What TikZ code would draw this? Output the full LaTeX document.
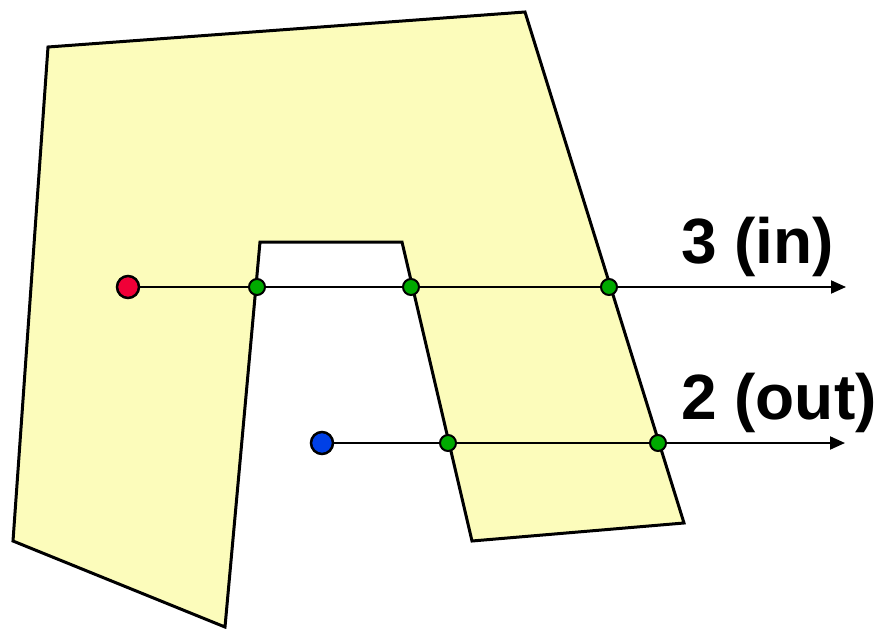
\documentclass[tikz,border=0pt]{standalone}
\usepackage{fontspec}
\setmainfont{Liberation Sans}
\usetikzlibrary{arrows.meta}
\definecolor{fillyellow}{RGB}{252,252,187}
\definecolor{dotred}{RGB}{240,0,55}
\definecolor{dotblue}{RGB}{0,64,230}
\definecolor{dotgreen}{RGB}{0,170,0}
\tikzset{
  bigdot/.style={circle,draw=black,line width=2.5pt,minimum size=22pt,inner sep=0pt},
  smalldot/.style={circle,draw=black,fill=dotgreen,line width=2pt,minimum size=16pt,inner sep=0pt},
  ray/.style={line width=2pt,-{Triangle[length=15pt,width=13pt]}},
  lbl/.style={anchor=base west,inner sep=0pt,font=\fontsize{64}{64}\selectfont\bfseries}
}
\begin{document}
\begin{tikzpicture}[x=1pt,y=-1pt]
\useasboundingbox (0,0) rectangle (878,629);
\draw[fill=fillyellow,line width=3pt,line join=miter]
  (48,47) -- (525,12) -- (684,523) -- (472,541) -- (402,242) -- (260,242) -- (225,627) -- (13,541) -- cycle;
\coordinate (e1) at (846,287);
\coordinate (e2) at (845,443);
\node[bigdot,fill=dotred] (r) at (128,287) {};
\node[bigdot,fill=dotblue] (b) at (322,443) {};
\draw[ray] (r) -- (e1);
\draw[ray] (b) -- (e2);
\node[smalldot] (g1) at (257,287) {};
\node[smalldot] (g2) at (411,287) {};
\node[smalldot] (g3) at (609,287) {};
\node[smalldot] (g4) at (448,443) {};
\node[smalldot] (g5) at (658,443) {};
\node[lbl] (l1) at (681,263) {3 (in)};
\node[lbl] (l2) at (681,419) {2 (out)};
\end{tikzpicture}
\end{document}
